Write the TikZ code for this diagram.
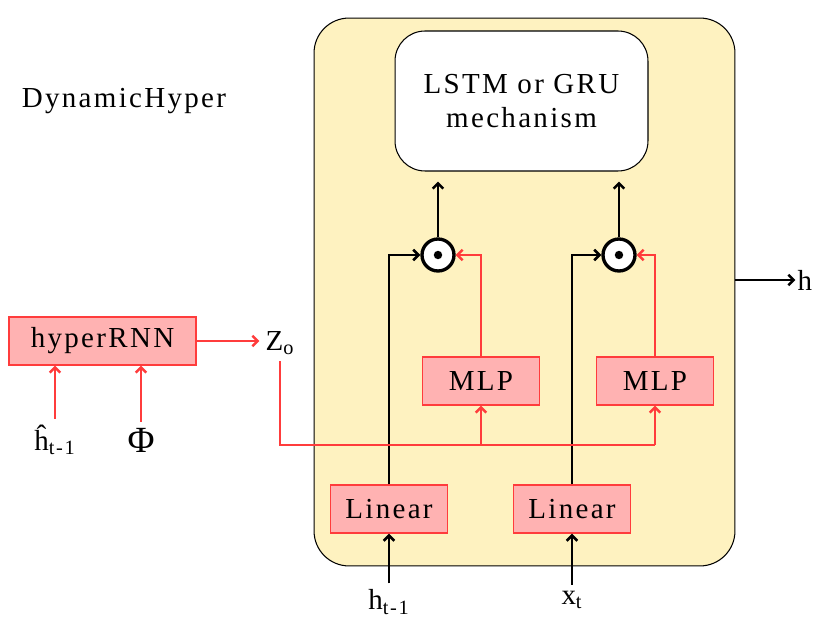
\documentclass[tikz,border=0pt]{standalone}
\usepackage{fontspec}
\setmainfont{Liberation Serif}[LetterSpace=8]
\usetikzlibrary{arrows.meta,positioning}
\definecolor{cellbg}{RGB}{254,242,192}
\definecolor{hypfill}{RGB}{255,178,178}
\definecolor{hypred}{RGB}{255,60,60}

\begin{document}
\begin{tikzpicture}[
  x=0.02cm,y=-0.02cm,
  every node/.style={font=\fontsize{16.5}{19.5}\selectfont},
  pinkbox/.style={draw=hypred,fill=hypfill,line width=.8pt,minimum width=2.34cm,minimum height=.96cm,inner sep=0pt},
  prod/.style={draw,circle,fill=white,line width=1.9pt,minimum size=.64cm,inner sep=0pt,
    path picture={\fill[black] (path picture bounding box.center) circle (2.4pt);}},
  blk/.style={line width=1.5pt},
  rd/.style={draw=hypred,line width=1.4pt},
  >={Straight Barb[length=3pt,width=6pt]}
]
\useasboundingbox (0,0) rectangle (815,621);

% cell
\node[draw,fill=cellbg,rounded corners=.7cm,line width=.6pt,minimum width=8.42cm,minimum height=10.96cm] (cell) at (524.5,292) {};
\node[draw,fill=white,rounded corners=.6cm,line width=.6pt,minimum width=5.06cm,minimum height=2.8cm,align=center] (lstm) at (521.5,101) {LSTM or GRU\\mechanism};
\node (title) at (124,101) {DynamicHyper};

% gates
\node[prod] (dotL) at (438,255) {};
\node[prod] (dotR) at (619,255) {};
\node[pinkbox] (mlpL) at (481,381) {MLP};
\node[pinkbox] (mlpR) at (655,381) {MLP};
\node[pinkbox] (linL) at (389,509) {Linear};
\node[pinkbox] (linR) at (572,509) {Linear};
\draw[blk,->,shorten >=.2cm] (dotL) -- (dotL |- lstm.south);
\draw[blk,->,shorten >=.2cm] (dotR) -- (dotR |- lstm.south);
\draw[blk,->] (linL.north) |- (dotL.west);
\draw[blk,->] (linR.north) |- (dotR.west);
\draw[rd,->] (mlpL.north) |- (dotL.east);
\draw[rd,->] (mlpR.north) |- (dotR.east);

% inputs and output
\node (hin) at (389,602) {h\textsubscript{t-1}};
\node (xin) at (572,600) {x\textsubscript{t}};
\draw[blk,->] (linL.south |- hin.north) -- (linL.south);
\draw[blk,->] (linR.south |- xin.north) -- (linR.south);
\coordinate (hstart) at (cell.east |- 0,280);
\node[right=12mm of hstart,inner sep=1pt] (hout) {h};
\draw[blk,->] (hstart) -- (hout.west);

% hyper network
\node[pinkbox,minimum width=3.74cm] (hyper) at (102.5,341) {hyperRNN};
\node (zo) at (280,343) {Z\textsubscript{o}};
\draw[rd,->] (hyper.east) -- (hyper.east -| zo.west);
\node (hhat) at (55,440) {ĥ\textsubscript{t-1}};
\node[font=\fontsize{21}{24}\selectfont] (phi) at (141,440) {Φ};
\draw[rd,->] (hhat.north) -- (hyper.south -| hhat);
\draw[rd,->] (phi.north) -- (hyper.south -| phi);
\coordinate (bus) at (zo |- 0,445);
\draw[rd] (zo.south) -- (bus) -- (bus -| mlpR);
\draw[rd,->] (bus -| mlpL) -- (mlpL.south);
\draw[rd,->] (bus -| mlpR) -- (mlpR.south);
\end{tikzpicture}
\end{document}
